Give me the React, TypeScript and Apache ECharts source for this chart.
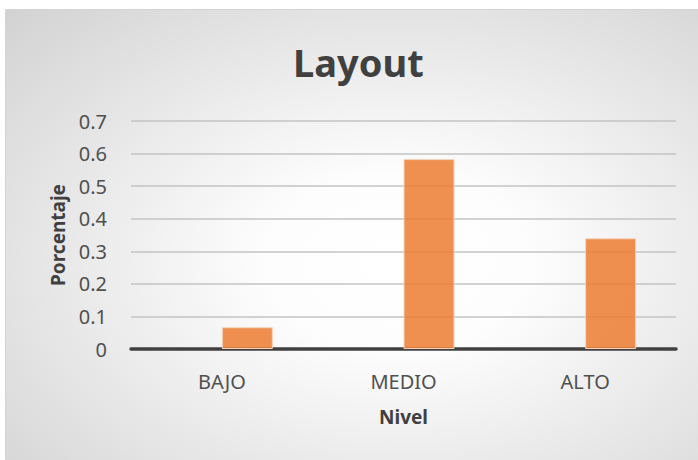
import React, { useEffect, useRef } from "react";
import * as echarts from "echarts";

const categories = ["BAJO", "MEDIO", "ALTO"];
const placeholderValues: (number | null)[] = [null, null, null];
const percentValues = [0.067, 0.583, 0.34];
const yTicks = { min: 0, max: 0.7, interval: 0.1 };
const titleText = "Layout";
const xName = "Nivel";
const yName = "Porcentaje";

export default function App() {
  const ref = useRef<HTMLDivElement>(null);
  useEffect(() => {
    if (!ref.current) return;
    const chart = echarts.init(ref.current, null, { renderer: "svg" });
    const font = "'Noto Sans', 'Open Sans', sans-serif";
    chart.setOption({
      animation: false,
      graphic: [
        {
          type: "rect",
          z: -100,
          silent: true,
          shape: { x: 5.5, y: 9.5, width: 700, height: 460 },
          style: {
            fill: new echarts.graphic.RadialGradient(0.56, 0.55, 0.95, [
              { offset: 0, color: "#ffffff" },
              { offset: 0.2, color: "#fdfdfd" },
              { offset: 1, color: "#c6c6c6" },
            ]),
            stroke: "#d4d4d4",
            lineWidth: 1,
          },
        },
      ],
      title: {
        text: titleText,
        left: 288,
        top: 38,
        textStyle: {
          fontFamily: font,
          fontSize: 38,
          fontWeight: "bold",
          color: "#404040",
        },
      },
      grid: { left: 131, right: 22, top: 121, bottom: 111 },
      xAxis: {
        type: "category",
        data: categories,
        name: xName,
        nameLocation: "middle",
        nameGap: 58,
        nameTextStyle: { fontFamily: font, fontSize: 19, fontWeight: "bold", color: "#404040" },
        axisLine: { lineStyle: { color: "#404040", width: 3.5 } },
        axisTick: { show: false },
        axisLabel: { fontFamily: font, fontSize: 20, color: "#505050", margin: 22 },
      },
      yAxis: {
        type: "value",
        min: yTicks.min,
        max: yTicks.max,
        interval: yTicks.interval,
        name: yName,
        nameLocation: "middle",
        nameGap: 60,
        nameTextStyle: { fontFamily: font, fontSize: 19, fontWeight: "bold", color: "#404040" },
        axisLine: { show: false },
        axisTick: { show: false },
        axisLabel: {
          fontFamily: font,
          fontSize: 20,
          color: "#505050",
          margin: 24,
          formatter: (v: number) => (v === 0 ? "0" : v.toFixed(1)),
        },
        splitLine: { lineStyle: { color: "#c3c3c3", width: 1.5 } },
      },
      series: [
        {
          type: "bar",
          data: placeholderValues,
          barWidth: 51,
          barGap: "0%",
          itemStyle: { color: "#ED8B4A" },
        },
        {
          type: "bar",
          data: percentValues,
          barWidth: 51,
          barGap: "0%",
          itemStyle: { color: "rgba(237,125,49,0.85)", borderColor: "#F7D3BA", borderWidth: 1 },
        },
      ],
    });
    return () => chart.dispose();
  }, []);
  return (
    <div
      ref={ref}
      style={{ position: "absolute", left: 0, top: 0, width: 698, height: 460, background: "#ffffff" }}
    />
  );
}
